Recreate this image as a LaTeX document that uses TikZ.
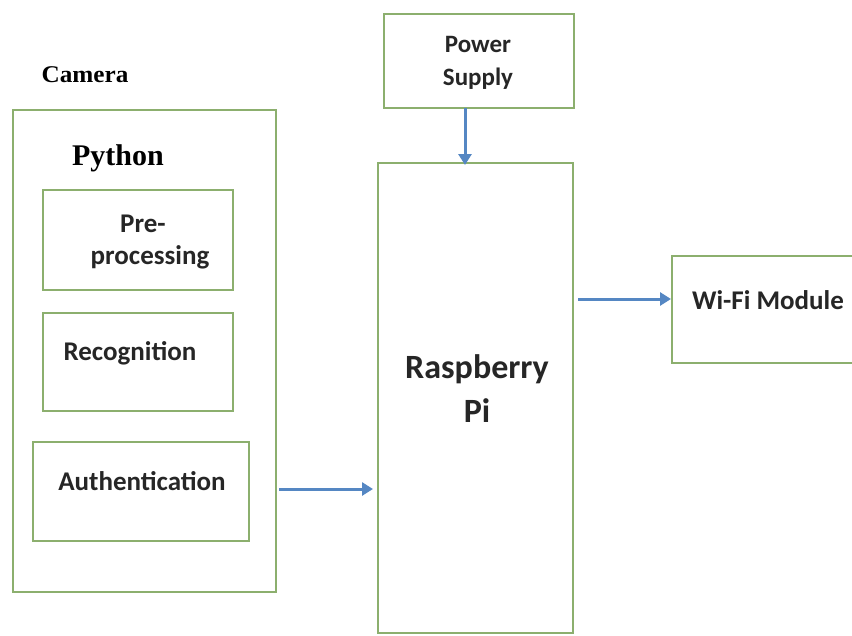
\documentclass[tikz,border=0pt]{standalone}
\usepackage{fontspec}
\setmainfont{Carlito}
\newfontfamily\serifb{Liberation Serif}
\usetikzlibrary{arrows.meta}
\definecolor{boxgreen}{RGB}{140,175,110}
\definecolor{arrowblue}{RGB}{85,135,195}
\tikzset{
  blk/.style={draw=boxgreen, line width=1.8pt, fill=white},
  lbl/.style={font=\bfseries\fontsize{27}{33}\selectfont, align=center, text=black!85},
  conn/.style={draw=arrowblue, line width=3pt, -{Triangle[length=11pt,width=13pt]}}
}
\begin{document}
\begin{tikzpicture}[x=1pt,y=-1pt]
\useasboundingbox (0,0) rectangle (852,635);
% outer camera box
\draw[blk] (13,110) rectangle (276,592);
\node[font=\serifb\bfseries\fontsize{24}{28}\selectfont, xscale=1.05] (cam) at (85,75) {Camera};
\node[font=\serifb\bfseries\fontsize{30}{34}\selectfont] (py) at (118,158) {Python};
% inner boxes
\draw[blk] (43,190) rectangle (233,290);
\node[lbl] (pre) at (150,242) {\hspace*{-14pt}Pre-\\[-1pt]processing};
\draw[blk] (43,313) rectangle (233,411);
\node[lbl] (rec) at (130,353) {Recognition};
\draw[blk] (33,442) rectangle (249,541);
\node[lbl] (auth) at (142,481) {Authentication};
% Raspberry Pi
\draw[blk] (378,163) rectangle (573,633);
\node[lbl, font=\bfseries\fontsize{34}{44}\selectfont] (rpi) at (477,389) {Raspberry\\Pi};
% Power supply
\draw[blk] (384,14) rectangle (574,108);
\node[lbl, font=\bfseries\fontsize{25}{33}\selectfont] (ps) at (478,63) {Power\\Supply};
% WiFi
\draw[blk] (672,256) rectangle (860,363);
\node[lbl] (wifi) at (768,300) {Wi-Fi Module};
% anchor coordinates
\coordinate (psb) at (465,108);
\coordinate (rpt) at (465,165);
\coordinate (authr) at (279,489);
\coordinate (rpl) at (373,489);
\coordinate (rpr) at (578,299);
\coordinate (wifil) at (671,299);
\draw[conn] (psb) -- (rpt);
\draw[conn] (authr) -- (rpl);
\draw[conn] (rpr) -- (wifil);
\end{tikzpicture}
\end{document}
